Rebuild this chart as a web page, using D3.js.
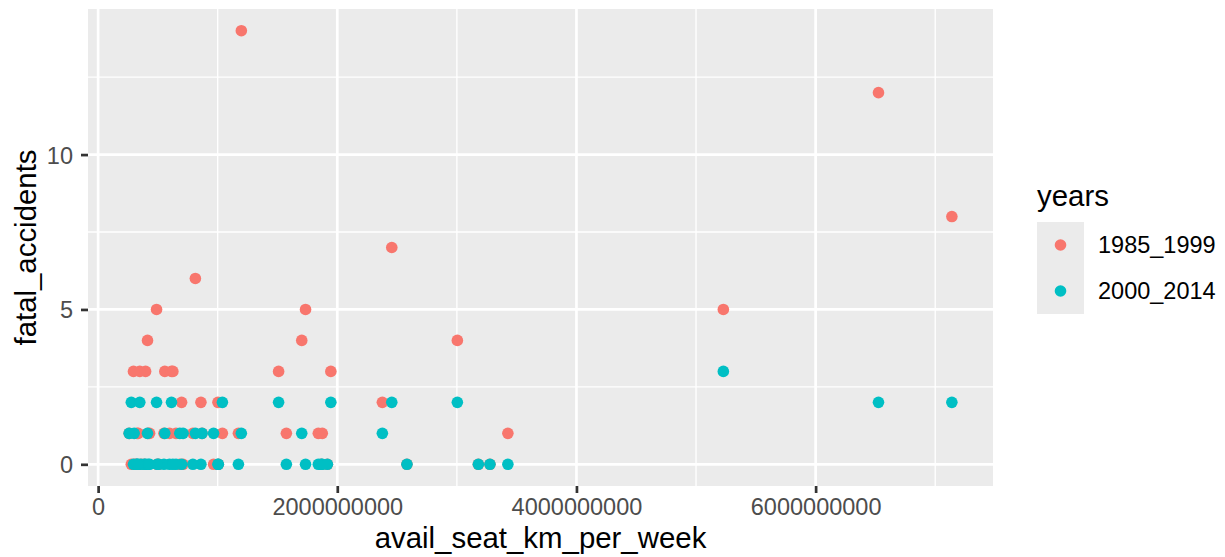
<!DOCTYPE html>
<html>
<head>
<meta charset="utf-8">
<script src="https://cdn.jsdelivr.net/npm/d3@7"></script>
<style>
  body { margin: 0; background: #fff; }
  svg { display: block; font-family: "Liberation Sans", Arial, sans-serif; }
</style>
</head>
<body>
<div id="chart"></div>
<script>
// airline safety: seat km per week vs fatal accidents in two periods
const airlines = ["Aer Lingus","Aeroflot","Aerolineas Argentinas","Aeromexico","Air Canada","Air France","Air India","Air New Zealand","Alaska Airlines","Alitalia","All Nippon Airways","American","Austrian Airlines","Avianca","British Airways","Cathay Pacific","China Airlines","Condor","COPA","Delta / Northwest","Egyptair","El Al","Ethiopian Airlines","Finnair","Garuda Indonesia","Gulf Air","Hawaiian Airlines","Iberia","Japan Airlines","Kenya Airways","KLM","Korean Air","LAN Airlines","Lufthansa","Malaysia Airlines","Pakistan International","Philippine Airlines","Qantas","Royal Air Maroc","SAS","Saudi Arabian","Singapore Airlines","South African","Southwest Airlines","Sri Lankan / AirLanka","SWISS","TACA","TAM","Thai Airways","Turkish Airlines","United / Continental","US Airways / America West","Vietnam Airlines","Virgin Atlantic","Xiamen Airlines"];
const seatKm = [320906734,1197672318,385803648,596871813,1865253802,3004002661,869253552,710174817,965346773,698012498,1841234177,5228357340,358239823,396922563,3179760952,2582459303,813216487,417982610,550491507,6525658894,557699891,335448023,488560643,506464950,613356665,301379762,493877795,1173203126,1574217531,277414794,1874561773,1734522605,1001965891,3426529504,1039171244,348563137,413007158,1917428984,295705339,682971852,859673901,2376857805,651502442,3276525770,325582976,792601299,259373346,1509195646,1702802250,1946098294,7139291291,2455687887,625084918,1005248585,430462962];
const fatal_85_99 = [0,14,0,1,0,4,1,0,0,2,1,5,0,3,0,0,6,1,1,12,3,1,5,0,3,0,0,1,1,0,1,5,2,1,1,3,4,0,3,0,2,2,1,0,1,1,1,3,4,3,8,7,3,0,1];
const fatal_00_14 = [0,1,0,0,0,2,1,1,1,0,0,3,0,0,0,0,1,0,0,2,1,0,2,0,2,1,0,0,0,2,0,0,0,0,2,2,1,0,0,1,0,1,0,0,0,0,1,2,1,2,2,2,0,0,0];
const yearGroups = ["1985_1999", "2000_2014"];
const groupColors = ["#F8766D", "#00BFC4"];
const xTicks = [0, 2e9, 4e9, 6e9];
const xMinor = [1e9, 3e9, 5e9, 7e9];
const yTicks = [0, 5, 10];
const yMinor = [2.5, 7.5, 12.5];

// long format, first period drawn first
const points = [];
yearGroups.forEach((g, gi) => {
    const vals = gi === 0 ? fatal_85_99 : fatal_00_14;
    airlines.forEach((a, i) => points.push({ airline: a, x: seatKm[i], y: vals[i], years: g }));
});

const W = 1225, H = 557;
const panel = { left: 88, right: 993, top: 9, bottom: 486 };
const tickFont = 23.5, titleFont = 29.4;
const ptR = 5.8;

const svg = d3.select("#chart").append("svg")
    .attr("width", W).attr("height", H);

const xExt = d3.extent(seatKm);
const xPad = (xExt[1] - xExt[0]) * 0.05;
const x = d3.scaleLinear()
    .domain([xExt[0] - xPad, xExt[1] + xPad])
    .range([panel.left, panel.right]);
const yMax = d3.max(points, d => d.y);
const y = d3.scaleLinear()
    .domain([-yMax * 0.05, yMax * 1.05])
    .range([panel.bottom, panel.top]);
const color = d3.scaleOrdinal().domain(yearGroups).range(groupColors);

// panel background
svg.append("rect")
    .attr("x", panel.left).attr("y", panel.top)
    .attr("width", panel.right - panel.left)
    .attr("height", panel.bottom - panel.top)
    .attr("fill", "#EBEBEB");

const grid = svg.append("g").attr("stroke", "#fff");
grid.selectAll(".xminor").data(xMinor).enter().append("line")
    .attr("x1", d => x(d)).attr("x2", d => x(d))
    .attr("y1", panel.top).attr("y2", panel.bottom)
    .attr("stroke-width", 1.35);
grid.selectAll(".yminor").data(yMinor).enter().append("line")
    .attr("y1", d => y(d)).attr("y2", d => y(d))
    .attr("x1", panel.left).attr("x2", panel.right)
    .attr("stroke-width", 1.35);
grid.selectAll(".xmajor").data(xTicks).enter().append("line")
    .attr("x1", d => x(d)).attr("x2", d => x(d))
    .attr("y1", panel.top).attr("y2", panel.bottom)
    .attr("stroke-width", 2.7);
grid.selectAll(".ymajor").data(yTicks).enter().append("line")
    .attr("y1", d => y(d)).attr("y2", d => y(d))
    .attr("x1", panel.left).attr("x2", panel.right)
    .attr("stroke-width", 2.7);

// points
svg.append("g").selectAll("circle")
    .data(points).enter().append("circle")
    .attr("cx", d => x(d.x))
    .attr("cy", d => y(d.y))
    .attr("r", ptR)
    .attr("fill", d => color(d.years));

// axes
const xAxis = svg.append("g")
    .attr("transform", `translate(0,${panel.bottom})`)
    .call(d3.axisBottom(x).tickValues(xTicks).tickFormat(d3.format("d")).tickSize(7).tickPadding(5));
const yAxis = svg.append("g")
    .attr("transform", `translate(${panel.left},0)`)
    .call(d3.axisLeft(y).tickValues(yTicks).tickSize(7).tickPadding(8));
[xAxis, yAxis].forEach(a => {
    a.select(".domain").remove();
    a.selectAll(".tick line").attr("stroke", "#333333").attr("stroke-width", 2.7);
    a.selectAll(".tick text")
        .attr("fill", "#4D4D4D")
        .style("font-size", tickFont + "px")
        .style("font-family", "'Liberation Sans', Arial, sans-serif");
});
xAxis.selectAll(".tick text").attr("dy", "0.71em");
yAxis.selectAll(".tick text").attr("dy", "0.36em");

// axis titles
svg.append("text")
    .attr("x", (panel.left + panel.right) / 2)
    .attr("y", 548)
    .attr("text-anchor", "middle")
    .style("font-size", titleFont + "px")
    .text("avail_seat_km_per_week");
svg.append("text")
    .attr("transform", `translate(36,${(panel.top + panel.bottom) / 2}) rotate(-90)`)
    .attr("text-anchor", "middle")
    .style("font-size", titleFont + "px")
    .text("fatal_accidents");

// legend
const legend = svg.append("g").attr("transform", "translate(1037,0)");
legend.append("text")
    .attr("x", 0).attr("y", 206)
    .style("font-size", titleFont + "px")
    .text("years");
const keyH = 46, keyW = 47, keyTop = 222;
const key = legend.selectAll(".key").data(yearGroups).enter().append("g")
    .attr("transform", (d, i) => `translate(0,${keyTop + i * keyH})`);
key.append("rect")
    .attr("width", keyW).attr("height", keyH)
    .attr("fill", "#EBEBEB");
key.append("circle")
    .attr("cx", keyW / 2).attr("cy", keyH / 2)
    .attr("r", ptR)
    .attr("fill", d => color(d));
key.append("text")
    .attr("x", 61).attr("y", keyH / 2)
    .attr("dy", "0.36em")
    .style("font-size", tickFont + "px")
    .text(d => d);
</script>
</body>
</html>
